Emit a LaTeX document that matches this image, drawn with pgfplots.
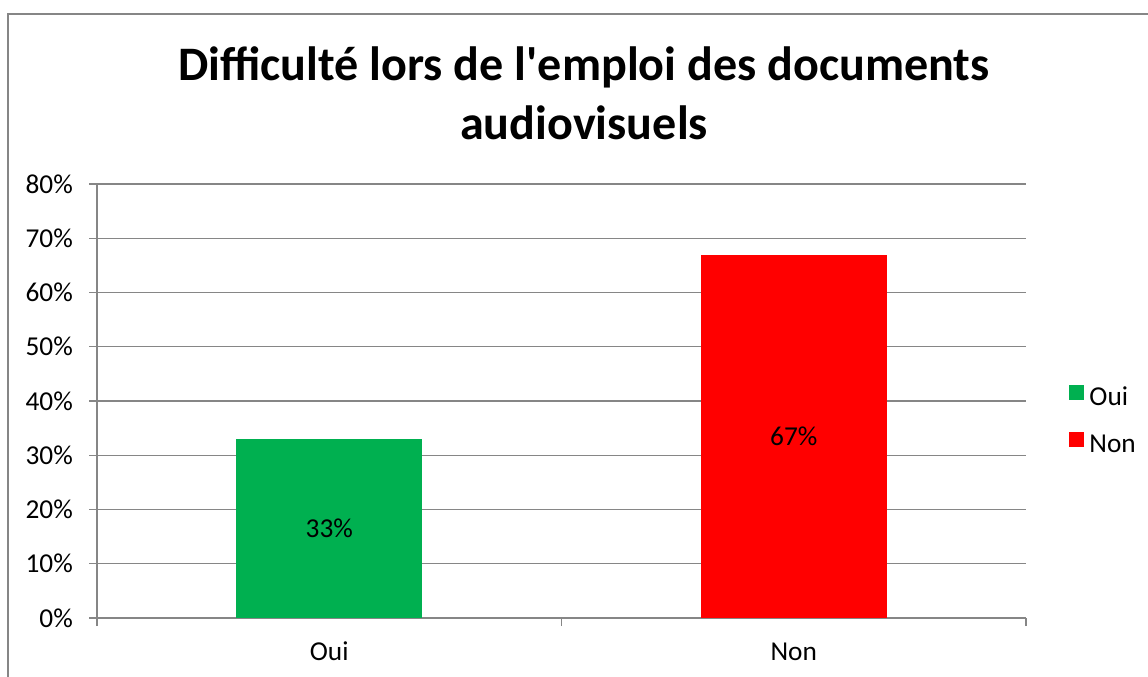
\documentclass[border=0pt]{standalone}
\usepackage{fontspec}
\setmainfont{Carlito}
\usepackage{pgfplots}
\pgfplotsset{compat=1.18}
\definecolor{oui}{RGB}{0,176,80}
\definecolor{non}{RGB}{255,0,0}
\definecolor{gridgray}{RGB}{134,134,134}
\begin{document}
\begin{tikzpicture}
\useasboundingbox (0,0) rectangle (441.52pt,-260.37pt);
\draw[gridgray, line width=0.5pt] (3.08pt,-270pt) -- (3.08pt,-5.38pt) -- (450pt,-5.38pt);
\node[anchor=base, inner sep=0pt, font=\fontsize{18.5}{22}\selectfont\bfseries] at (224.61pt,-30.77pt) {Difficulté lors de l\textquotesingle emploi des documents};
\node[anchor=base, inner sep=0pt, font=\fontsize{18.5}{22}\selectfont\bfseries] at (224.61pt,-53.5pt) {audiovisuels};
\begin{axis}[
  at={(37.31pt,-237.68pt)}, anchor=south west,
  scale only axis, width=357.29pt, height=166.92pt,
  xmin=-0.5, xmax=1.5, ymin=0, ymax=80,
  axis x line*=bottom, axis y line*=left,
  axis line style={-, gridgray, line width=0.5pt},
  every outer x axis line/.append style={-},
  every outer y axis line/.append style={-},
  /pgf/number format/assume math mode=true,
  font=\fontsize{10.5}{12.5}\selectfont,
  tick label style={font=\fontsize{10.5}{12.5}\selectfont, black},
  ytick={0,10,...,80},
  yticklabel={\pgfmathprintnumber{\tick}\%},
  yticklabel style={xshift=-2.7pt},
  xtick={-0.5,0.5,1.5}, xticklabels={},
  extra x ticks={0,1}, extra x tick labels={Oui,Non},
  extra x tick style={major tick length=0pt, xticklabel style={anchor=base, yshift=-16.5pt}},
  ymajorgrids, grid style={gridgray, line width=0.5pt},
  tick style={gridgray, line width=0.5pt},
  major tick length=3.08pt, tick align=outside,
  ybar, bar width=71.54pt, bar shift=0pt,
  visualization depends on={y \as \rawy},
  nodes near coords={\pgfmathprintnumber{\pgfplotspointmeta}\%},
  every node near coord/.append style={anchor=center, black, font=\fontsize{10.5}{12.5}\selectfont, shift={(axis direction cs:0,-\rawy/2)}},
  legend style={at={(rel axis cs:1.046,0.452)}, anchor=west, draw=none, fill=none, font=\fontsize{10.5}{12.5}\selectfont, row sep=5.8pt, inner sep=0pt, legend cell align=left},
  legend image code/.code={\fill[#1] (0pt,-0.6pt) rectangle (5.77pt,5.17pt);},
]
\addplot[fill=oui, draw=none] coordinates {(0,33)};
\addplot[fill=non, draw=none] coordinates {(1,67)};
\legend{Oui,Non}
\end{axis}
\end{tikzpicture}
\end{document}
